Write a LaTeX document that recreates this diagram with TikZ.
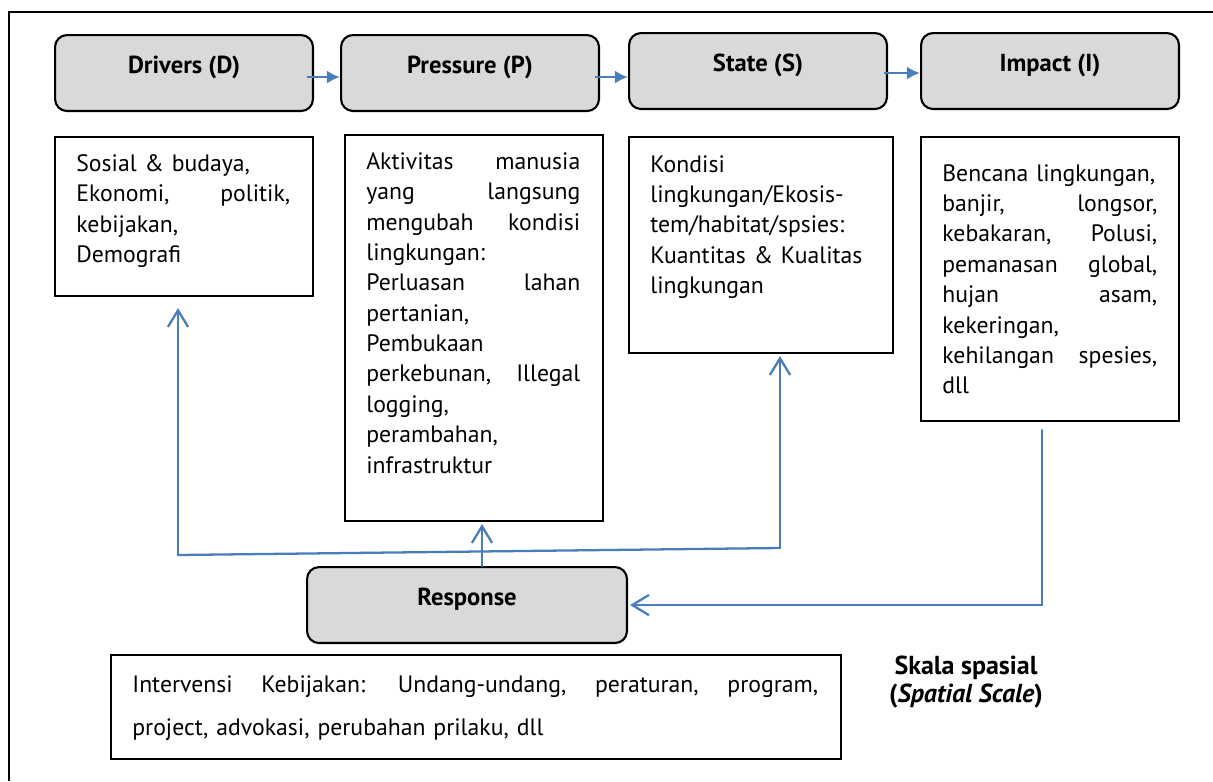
\documentclass[tikz,border=0pt]{standalone}
\usepackage{fontspec}
\setmainfont{PT Sans}
\usetikzlibrary{arrows.meta}
\definecolor{hdrgray}{HTML}{D9D9D9}
\definecolor{fbblue}{HTML}{4A7EBB}

\tikzset{
 hdr/.style={draw, fill=hdrgray, rounded corners=0.24cm, line width=1.2pt, anchor=north west, minimum width=5.16cm, minimum height=1.52cm, text height=10pt, text depth=10pt, font=\fontsize{14}{17}\selectfont\bfseries},
 txtbox/.style={draw, line width=1.2pt, anchor=north west},
 txt/.style={anchor=north west, inner sep=0, align=left, font=\fontsize{13.5}{17.3}\selectfont},
 fb/.style={fbblue, line width=1.3pt, line cap=round},
 hdrarr/.style={fbblue, line width=1.5pt, -{Latex[length=7.5pt,width=7.5pt]}}
}

\begin{document}
\begin{tikzpicture}[x=0.02cm, y=-0.02cm, >={Straight Barb[length=9.5pt,width=11.5pt]}]
\useasboundingbox (0,0) rectangle (1213,781);
\draw[line width=1.2pt] (9,781) -- (9,12) -- (1213,12);

\node[hdr] (drv) at (54,34) {Drivers (D)};
\node[hdr] (prs) at (340,34) {Pressure (P)};
\node[hdr] (stt) at (628,32) {State (S)};
\node[hdr] (imp) at (920,32) {Impact (I)};
\node[hdr, minimum width=6.4cm] (rsp) at (306,566) {Response};

\draw[hdrarr] ([xshift=-0.14cm,yshift=-0.08cm]drv.east) -- ([yshift=-0.08cm]prs.west);
\draw[hdrarr] ([xshift=-0.1cm,yshift=-0.08cm]prs.east) -- ([yshift=-0.08cm]prs.east -| stt.west);
\draw[hdrarr] ([xshift=-0.08cm,yshift=-0.04cm]stt.east) -- ([yshift=-0.04cm]imp.west);

\node[txtbox, minimum width=5.16cm, minimum height=3.18cm] (drvbox) at (54,136) {};
\node[txtbox, minimum width=5.16cm, minimum height=7.72cm] (prsbox) at (344,134) {};
\node[txtbox, minimum width=5.28cm, minimum height=4.32cm] (sttbox) at (628,136) {};
\node[txtbox, minimum width=5.16cm, minimum height=5.68cm] (impbox) at (920,136) {};
\node[txtbox, minimum width=14.6cm, minimum height=2.08cm] (intbox) at (110,654) {};

\node[txt, text width=4.28cm] (drvtxt) at (76,154) {Sosial \& budaya,\\
 Ekonomi, \hfill politik,\\
 kebijakan,\\
 Demografi};
\node[txt, text width=4.28cm] (prstxt) at (366,152) {Aktivitas \hfill manusia\\
 yang \hfill langsung\\
 mengubah \hfill kondisi\\
 lingkungan:\\
 Perluasan \hfill lahan\\
 pertanian,\\
 Pembukaan\\
 perkebunan, \hfill Illegal\\
 logging,\\
 perambahan,\\
 infrastruktur};
\node[txt, text width=4.44cm] (stttxt) at (650,155) {Kondisi\\
 lingkungan/Ekosis-\\
 tem/habitat/spsies:\\
 Kuantitas \& Kualitas\\
 lingkungan};
\node[txt, text width=4.3cm] (imptxt) at (942,164) {Bencana lingkungan,\\
 banjir, \hfill longsor,\\
 kebakaran, \hfill Polusi,\\
 pemanasan \hfill global,\\
 hujan \hfill asam,\\
 kekeringan,\\
 kehilangan \hfill spesies,\\
 dll};
\node[txt, text width=13.72cm, font=\fontsize{13.5}{24.4}\selectfont] (inttxt) at (132,675) {Intervensi \hfill Kebijakan: \hfill Undang-undang, \hfill peraturan, \hfill program,\\
 project, advokasi, perubahan prilaku, dll};

\node[align=center, font=\fontsize{14.8}{16.4}\selectfont\bfseries] (skala) at (966,682) {Skala spasial\\(\textit{Spatial Scale})};

\coordinate (fbL) at (178,555);
\coordinate (fbR) at (780,548);
\coordinate (impL) at (1042,430);
\draw[fb] (fbL) -- (fbR);
\draw[fb,->,shorten >=0.22cm] (fbL) -- (fbL |- drvbox.south);
\draw[fb,->,shorten >=0.04cm] (fbR) -- (fbR |- sttbox.south);
\draw[fb,->,shorten >=0.04cm] ([xshift=0.3cm]rsp.north) -- ([xshift=0.3cm]rsp.north |- prsbox.south);
\draw[fb,->,shorten >=0.04cm] (impL) |- (rsp.east);
\end{tikzpicture}
\end{document}
